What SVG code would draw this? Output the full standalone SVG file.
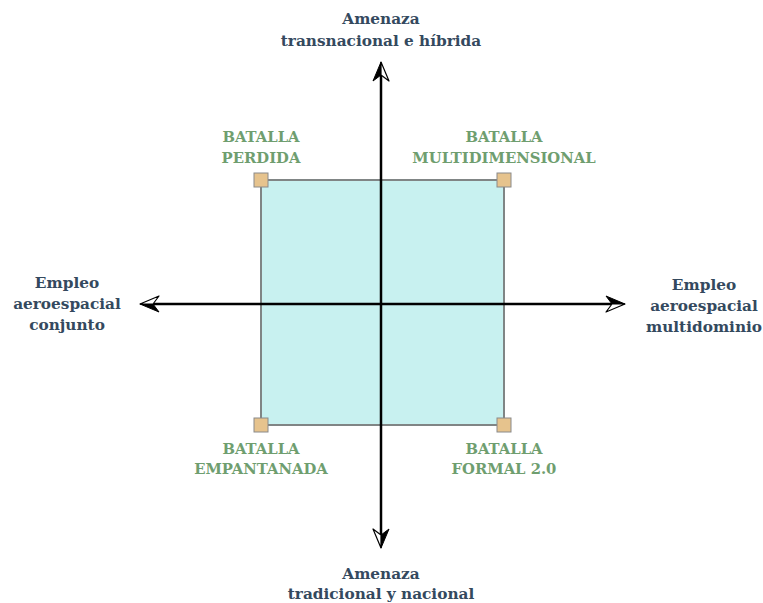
<svg xmlns="http://www.w3.org/2000/svg" width="763" height="603" viewBox="0 0 763 603">
<style>
.ax{stroke:#000;stroke-width:2.5;fill:none;marker-end:url(#ah)}
.dark{font-family:"DejaVu Serif","Liberation Serif",serif;font-weight:bold;font-size:15.3px;fill:#34495e;text-anchor:middle}
.grn{font-family:"DejaVu Serif","Liberation Serif",serif;font-weight:bold;font-size:14.8px;fill:#6f9e6f;text-anchor:middle}
.corner{fill:#e6c38d;stroke:#8a8a8a;stroke-width:1}
</style>
<defs>
<marker id="ah" markerUnits="userSpaceOnUse" viewBox="-22 -10 24 20" refX="-13" refY="0" markerWidth="24" markerHeight="20" orient="auto">
<path d="M0,0 L-19,-8 L-13,0 Z" fill="#000" stroke="#000" stroke-width="1" stroke-linejoin="round"/>
<path d="M0,0 L-13,0 L-19,8 Z" fill="#fff" stroke="#000" stroke-width="1.2" stroke-linejoin="round"/>
</marker>
</defs>
<rect width="763" height="603" fill="#fff"/>
<g id="quadrant">
<rect x="261" y="180" width="243" height="245" fill="#c8f1f0" stroke="#808585" stroke-width="2"/>
</g>
<g id="connectors">
<line class="ax" x1="381" y1="304" x2="381" y2="75"/>
<line class="ax" x1="381" y1="304" x2="381" y2="535"/>
<line class="ax" x1="381" y1="304" x2="153" y2="304"/>
<line class="ax" x1="381" y1="304" x2="612" y2="304"/>
</g>
<g id="corner-tl"><rect class="corner" x="254" y="173" width="14" height="14"/></g>
<g id="corner-tr"><rect class="corner" x="497" y="173" width="14" height="14"/></g>
<g id="corner-bl"><rect class="corner" x="254" y="418" width="14" height="14"/></g>
<g id="corner-br"><rect class="corner" x="497" y="418" width="14" height="14"/></g>
<g id="label-top"><text class="dark" x="381" y="24">Amenaza</text><text class="dark" x="381" y="46">transnacional e híbrida</text></g>
<g id="label-bottom"><text class="dark" x="381" y="579">Amenaza</text><text class="dark" x="381" y="599">tradicional y nacional</text></g>
<g id="label-left"><text class="dark" x="67" y="288">Empleo</text><text class="dark" x="67" y="309">aeroespacial</text><text class="dark" x="67" y="330">conjunto</text></g>
<g id="label-right"><text class="dark" x="704" y="290">Empleo</text><text class="dark" x="704" y="311">aeroespacial</text><text class="dark" x="704" y="332">multidominio</text></g>
<g id="q-perdida"><text class="grn" x="261" y="142">BATALLA</text><text class="grn" x="261" y="163">PERDIDA</text></g>
<g id="q-multidimensional"><text class="grn" x="504" y="142">BATALLA</text><text class="grn" x="504" y="163">MULTIDIMENSIONAL</text></g>
<g id="q-empantanada"><text class="grn" x="261" y="454">BATALLA</text><text class="grn" x="261" y="474">EMPANTANADA</text></g>
<g id="q-formal"><text class="grn" x="504" y="454">BATALLA</text><text class="grn" x="504" y="474">FORMAL 2.0</text></g>
</svg>
